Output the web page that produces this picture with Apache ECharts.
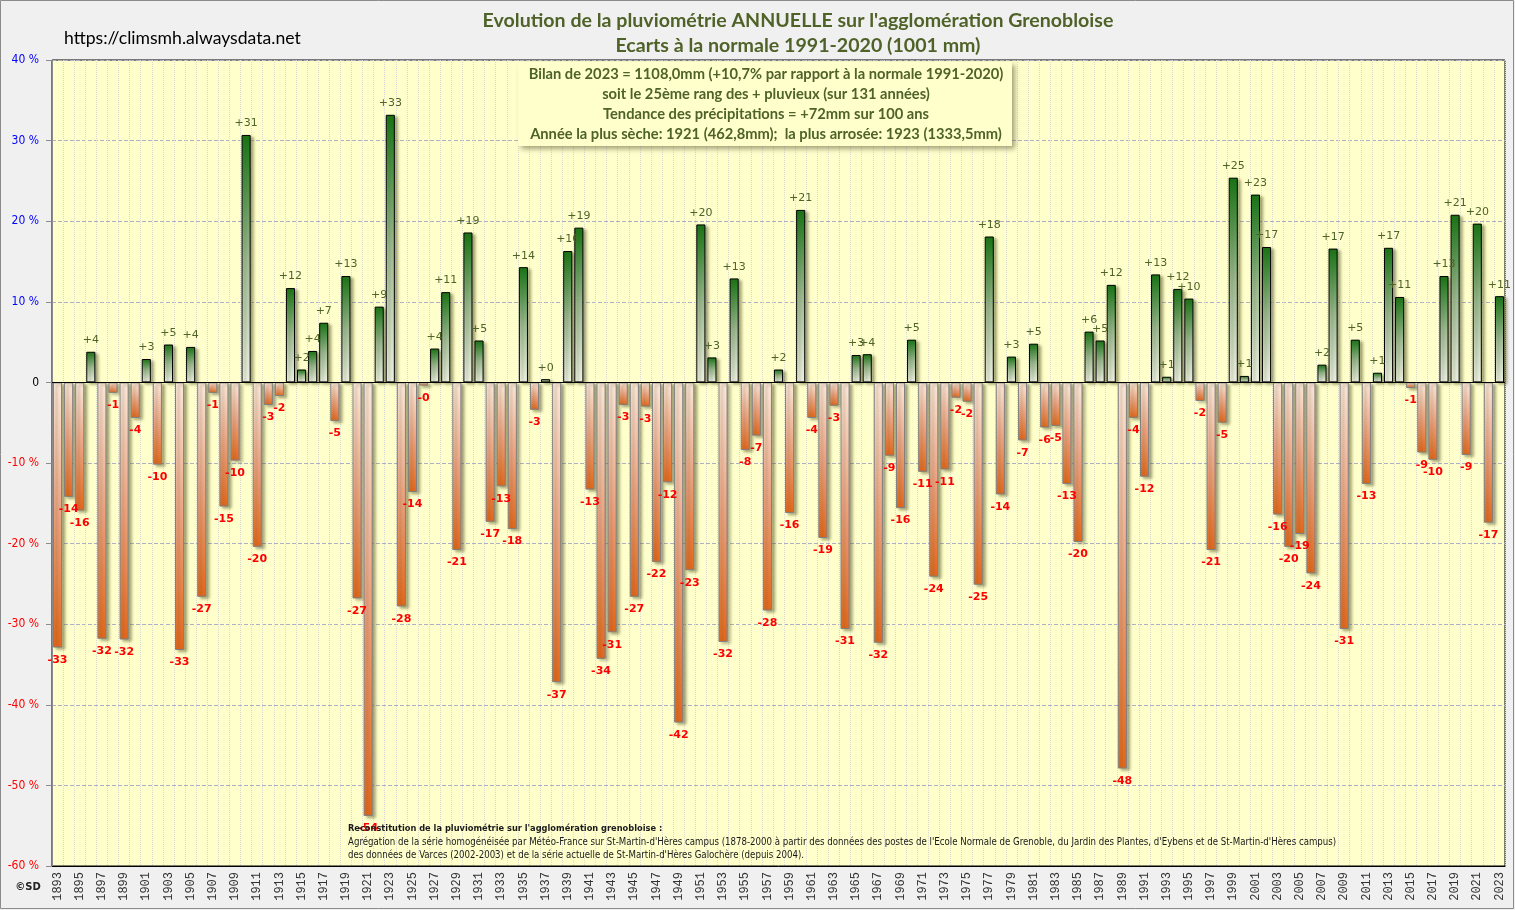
<!DOCTYPE html>
<html>
<head>
<meta charset="utf-8">
<script src="https://cdn.jsdelivr.net/npm/echarts@6/dist/echarts.min.js"></script>
<style>
html,body{margin:0;padding:0;background:#f0f0f0;}
#chart{width:1515px;height:910px;}
</style>
</head>
<body>
<div id="chart"></div>
<script>
const years = [
'1893','1894','1895','1896','1897','1898','1899','1900','1901','1902',
'1903','1904','1905','1906','1907','1908','1909','1910','1911','1912',
'1913','1914','1915','1916','1917','1918','1919','1920','1921','1922',
'1923','1924','1925','1926','1927','1928','1929','1930','1931','1932',
'1933','1934','1935','1936','1937','1938','1939','1940','1941','1942',
'1943','1944','1945','1946','1947','1948','1949','1950','1951','1952',
'1953','1954','1955','1956','1957','1958','1959','1960','1961','1962',
'1963','1964','1965','1966','1967','1968','1969','1970','1971','1972',
'1973','1974','1975','1976','1977','1978','1979','1980','1981','1982',
'1983','1984','1985','1986','1987','1988','1989','1990','1991','1992',
'1993','1994','1995','1996','1997','1998','1999','2000','2001','2002',
'2003','2004','2005','2006','2007','2008','2009','2010','2011','2012',
'2013','2014','2015','2016','2017','2018','2019','2020','2021','2022',
'2023'];

// Ecart à la normale 1991-2020 (%)
const ecarts = [
-32.9,-14.2,-15.9,3.8,-31.8,-1.3,-31.9,-4.4,2.9,-10.2,
4.7,-33.2,4.4,-26.6,-1.3,-15.4,-9.7,30.7,-20.4,-2.8,
-1.7,11.7,1.6,3.9,7.4,-4.8,13.2,-26.8,-53.8,9.4,
33.2,-27.8,-13.6,-0.4,4.2,11.2,-20.8,18.6,5.2,-17.3,
-12.9,-18.2,14.3,-3.4,0.4,-37.2,16.3,19.2,-13.3,-34.3,
-31.0,-2.8,-26.6,-3.0,-22.3,-12.4,-42.2,-23.3,19.6,3.1,
-32.2,12.9,-8.4,-6.6,-28.3,1.6,-16.2,21.4,-4.4,-19.3,
-2.9,-30.6,3.4,3.5,-32.3,-9.1,-15.6,5.3,-11.1,-24.1,
-10.8,-1.9,-2.4,-25.1,18.1,-13.9,3.2,-7.2,4.8,-5.6,
-5.4,-12.6,-19.8,6.3,5.2,12.1,-47.9,-4.4,-11.7,13.4,
0.7,11.6,10.4,-2.3,-20.8,-5.0,25.4,0.8,23.3,16.8,
-16.4,-20.4,-18.8,-23.7,2.2,16.6,-30.6,5.3,-12.6,1.2,
16.7,10.6,-0.7,-8.7,-9.6,13.2,20.8,-9.0,19.7,-17.4,
10.7];

const yTicks = [-60,-50,-40,-30,-20,-10,0,10,20,30,40];

const titleLines = [
  "Evolution de la pluviométrie ANNUELLE sur l'agglomération Grenobloise",
  "Ecarts à la normale 1991-2020 (1001 mm)"
];
const infoLines = [
  "Bilan de 2023 = 1108,0mm (+10,7% par rapport à la normale 1991-2020)",
  "soit le 25ème rang des + pluvieux (sur 131 années)",
  "Tendance des précipitations = +72mm sur 100 ans",
  "Année la plus sèche: 1921 (462,8mm);  la plus arrosée: 1923 (1333,5mm)"
];
const noteLines = [
  "Reconstitution de la pluviométrie sur l'agglomération grenobloise :",
  "Agrégation de la série homogénéisée par Météo-France sur St-Martin-d'Hères campus (1878-2000 à partir des données des postes de l'Ecole Normale de Grenoble, du Jardin des Plantes, d'Eybens et de St-Martin-d'Hères campus)",
  "des données de Varces (2002-2003) et de la série actuelle de St-Martin-d'Hères Galochère (depuis 2004)."
];

const OLIVE = '#4f6228';
const NARROW = '"Liberation Sans Narrow", "DejaVu Sans Condensed", sans-serif';

const posGrad = new echarts.graphic.LinearGradient(0,0,0,1,[
  {offset:0,color:'#137513'},{offset:0.5,color:'#9dbb93'},{offset:1,color:'#eef2e4'}]);
const negGrad = new echarts.graphic.LinearGradient(0,0,0,1,[
  {offset:0,color:'#fde9dc'},{offset:0.5,color:'#eea482'},{offset:1,color:'#e5671b'}]);

const barData = ecarts.map(v => {
  const pos = v >= 0;
  return {
    value: v,
    itemStyle: {
      color: pos ? posGrad : negGrad,
      borderColor: pos ? '#000000' : '#7f7f7f',
      borderWidth: 1
    },
    label: pos ? {position:'top', distance:6, color: OLIVE}
               : {position:'bottom', distance:7, color:'#ff0000', fontWeight:'bold'}
  };
});

const chart = echarts.init(document.getElementById('chart'), null, {renderer:'canvas'});

const graphics = [
  {type:'rect', shape:{x:0.5,y:0.5,width:1513,height:908}, style:{fill:'none', stroke:'#8c8c8c', lineWidth:1}, z:0, silent:true},
  {type:'text', x:64, y:38, style:{text:'https://climsmh.alwaysdata.net', font:'17.6px Lato, "Open Sans", sans-serif', fill:'#000', textVerticalAlign:'middle'}, z:10},
  {type:'text', x:798, y:21, style:{text:titleLines[0], font:'bold 19.6px Lato, sans-serif', fill:OLIVE, textAlign:'center', textVerticalAlign:'middle'}, z:10},
  {type:'text', x:798, y:46, style:{text:titleLines[1], font:'bold 19.6px Lato, sans-serif', fill:OLIVE, textAlign:'center', textVerticalAlign:'middle'}, z:10},
  {type:'rect', shape:{x:518,y:62,width:494,height:84}, style:{fill:'#ffffcc', shadowBlur:5, shadowOffsetX:3, shadowOffsetY:3, shadowColor:'rgba(90,90,60,0.55)'}, z:100},
  {type:'text', x:28, y:887, style:{text:'©SD', font:'bold 10px "DejaVu Sans", sans-serif', fill:'#222', textAlign:'center', textVerticalAlign:'middle'}, z:10}
];
infoLines.forEach((t,i) => {
  graphics.push({type:'text', x:766, y:74 + i*20, style:{text:t, font:'bold 14.7px Lato, sans-serif', fill:OLIVE, textAlign:'center', textVerticalAlign:'middle'}, z:101});
});
noteLines.forEach((t,i) => {
  graphics.push({type:'text', x:348, y:829 + i*13, style:{text:t, font:(i===0?'bold ':'')+(i===0?'9.2px ':'9.6px ')+NARROW, fill:'#1a1a1a', textVerticalAlign:'middle'}, z:101});
});

const option = {
  backgroundColor:'#f0f0f0',
  animation:false,
  grid:{left:52, right:10, top:60, bottom:44, show:true, backgroundColor:'#ffffcc', borderColor:'#000', borderWidth:1},
  xAxis:{
    type:'category', data:years, position:'bottom',
    axisLine:{onZero:false, lineStyle:{color:'#000', width:1}},
    axisTick:{show:false},
    axisLabel:{interval:1, rotate:90, fontSize:12, fontFamily:'"Liberation Mono", "DejaVu Sans Mono", monospace', color:'#333', margin:6},
    splitLine:{show:true, interval:0, lineStyle:{color:'#d9d9d9', type:'dotted', width:1}}
  },
  yAxis:{
    type:'value', min:-60, max:40, interval:10,
    axisLine:{show:true, lineStyle:{color:'#8c8c8c'}},
    axisTick:{show:true, length:6, lineStyle:{color:'#8c8c8c'}},
    axisLabel:{
      fontFamily:NARROW, fontSize:12, margin:13,
      formatter: v => v === 0 ? '0' : v + ' %',
      color: v => { const n = Number(v); return n > 0 ? '#0000ff' : (n < 0 ? '#ff0000' : '#000000'); }
    },
    splitLine:{show:true, lineStyle:{color:'#b0b0c4', type:'dashed', width:1}}
  },
  series:[{
    type:'bar', data:barData, barCategoryGap:'18%',
    itemStyle:{shadowColor:'rgba(90,90,40,0.5)', shadowBlur:3, shadowOffsetX:3, shadowOffsetY:2},
    label:{show:true, fontSize:11, fontFamily:'"DejaVu Sans", sans-serif',
      formatter: p => p.value < 0 ? '-' + Math.round(Math.abs(p.value)) : '+' + Math.round(p.value)},
    markLine:{silent:true, symbol:'none', label:{show:false}, lineStyle:{color:'#000', width:1, type:'solid'}, data:[{yAxis:0}]},
    z:2
  }],
  graphic: graphics
};
chart.setOption(option);
</script>
</body>
</html>
